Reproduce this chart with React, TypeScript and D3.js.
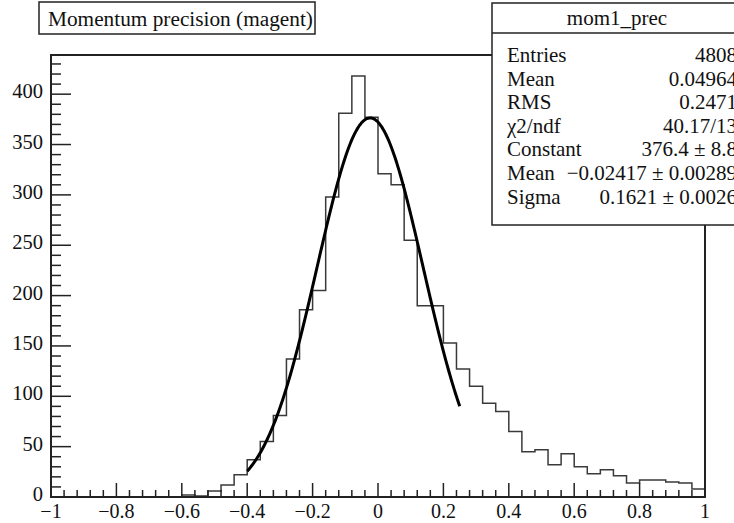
import React from "react";
import * as d3 from "d3";

// ---- data ----
const xDomain: [number, number] = [-1, 1];
const binCounts: number[] = [
  0, 0, 0, 0, 0, 0, 0, 0, 0, 0,
  2, 1, 6, 12, 22, 37, 55, 81, 137, 186,
  205, 298, 381, 418, 377, 321, 310, 255, 190, 190,
  153, 127, 110, 93, 85, 65, 45, 47, 32, 43,
  30, 23, 27, 21, 14, 17, 17, 15, 14, 8,
];
const xTickLabels: string[] = ["\u22121", "\u22120.8", "\u22120.6", "\u22120.4", "\u22120.2", "0", "0.2", "0.4", "0.6", "0.8", "1"];
const xTickValues: number[] = [-1, -0.8, -0.6, -0.4, -0.2, 0, 0.2, 0.4, 0.6, 0.8, 1];
const yTickValues: number[] = [0, 50, 100, 150, 200, 250, 300, 350, 400];
const statLabels: string[] = ["Entries", "Mean", "RMS", "\u03c72/ndf", "Constant", "Mean", "Sigma"];
const statValues: string[] = ["4808", "0.04964", "0.2471", "40.17/13", "376.4 \u00b1 8.8", "\u22120.02417 \u00b1 0.00289", "0.1621 \u00b1 0.0026"];
const fitConstant = 376.4;
const fitMean = -0.02417;
const fitSigma = 0.1621;
const fitRange: [number, number] = [-0.4, 0.25];
const titleText = "Momentum precision (magent)";
const statTitle = "mom1_prec";

const W = 734, H = 523;
const L = 51, R = 705, T = 55, B = 497;
const FONT = "'Liberation Serif', 'Times New Roman', serif";

export default function App() {
  const nb = binCounts.length;
  const bw = (xDomain[1] - xDomain[0]) / nb;
  const ymax = 1.05 * (d3.max(binCounts) as number);
  const x = d3.scaleLinear().domain(xDomain).range([L, R]);
  const y = d3.scaleLinear().domain([0, ymax]).range([B, T]);

  // histogram step path
  const pts: [number, number][] = [[xDomain[0], 0]];
  binCounts.forEach((c, i) => {
    const x0 = xDomain[0] + i * bw;
    pts.push([x0, c]);
    pts.push([x0 + bw, c]);
  });
  pts.push([xDomain[1], 0]);
  const histPath = d3.line<[number, number]>().x((d) => x(d[0])).y((d) => y(d[1]))(pts) as string;

  const gauss = (v: number) => fitConstant * Math.exp(-0.5 * ((v - fitMean) / fitSigma) ** 2);
  const fx = d3.range(0, 201).map((k) => fitRange[0] + ((fitRange[1] - fitRange[0]) * k) / 200);
  const fitPath = d3.line<number>().x((v) => x(v)).y((v) => y(gauss(v)))(fx) as string;

  // ticks
  const xMinor = d3.range(0, 51).map((k) => xDomain[0] + k * 0.04);
  const yMinor = d3.range(0, Math.floor(ymax / 10) + 1).map((k) => k * 10);
  const majLenX = 14, minLenX = 7;
  const majLenY = 20, minLenY = 10;

  // stats box layout
  const sbL = 492, sbR = 742, sbT = 3, sbHead = 33, sbB = 225;
  const row0 = 55, rowStep = 23.6;

  return (
    <svg width={W} height={H} style={{ position: "fixed", left: 0, top: 0, background: "#fff" }} fontFamily={FONT}>
      <rect x={0} y={0} width={W} height={H} fill="#fff" />
      {/* histogram */}
      <path d={histPath} fill="none" stroke="#3a3a3a" strokeWidth={1.5} />
      {/* fit */}
      <path d={fitPath} fill="none" stroke="#000" strokeWidth={3} />
      {/* ticks x */}
      {xMinor.map((v, i) => {
        const isMaj = xTickValues.some((t) => Math.abs(t - v) < 1e-6);
        return <line key={"xt" + i} x1={x(v)} x2={x(v)} y1={B} y2={B - (isMaj ? majLenX : minLenX)} stroke="#222" strokeWidth={1.5} />;
      })}
      {yMinor.map((v, i) => {
        const isMaj = v % 50 === 0;
        return <line key={"yt" + i} x1={L} x2={L + (isMaj ? majLenY : minLenY)} y1={y(v)} y2={y(v)} stroke="#222" strokeWidth={1.5} />;
      })}
      {/* frame */}
      <rect x={L} y={T} width={R - L} height={B - T} fill="none" stroke="#222" strokeWidth={2} />
      {/* x labels */}
      {xTickValues.map((v, i) => (
        <text key={"xl" + i} x={x(v)} y={518} fontSize={20} textAnchor="middle" fill="#111">{xTickLabels[i]}</text>
      ))}
      {yTickValues.map((v, i) => (
        <text key={"yl" + i} x={43} y={y(v) + 4} fontSize={20.5} textAnchor="end" fill="#111">{v}</text>
      ))}
      {/* title box */}
      <rect x={39} y={2} width={276} height={32} fill="#fff" stroke="#222" strokeWidth={1.5} />
      <text x={48} y={26} fontSize={21.3} fill="#111">{titleText}</text>
      {/* stats box */}
      <rect x={sbL} y={sbT} width={sbR - sbL} height={sbB - sbT} fill="#fff" stroke="#222" strokeWidth={1.5} />
      <line x1={sbL} x2={sbR} y1={sbHead} y2={sbHead} stroke="#222" strokeWidth={1.5} />
      <text x={617} y={25} fontSize={21} textAnchor="middle" fill="#111">{statTitle}</text>
      {statLabels.map((s, i) => (
        <text key={"sl" + i} x={507} y={row0 + rowStep * i + 7} fontSize={21} fill="#111">{s}</text>
      ))}
      {statValues.map((s, i) => (
        <text key={"sv" + i} x={737} y={row0 + rowStep * i + 7} fontSize={21} textAnchor="end" fill="#111">{s}</text>
      ))}
    </svg>
  );
}
